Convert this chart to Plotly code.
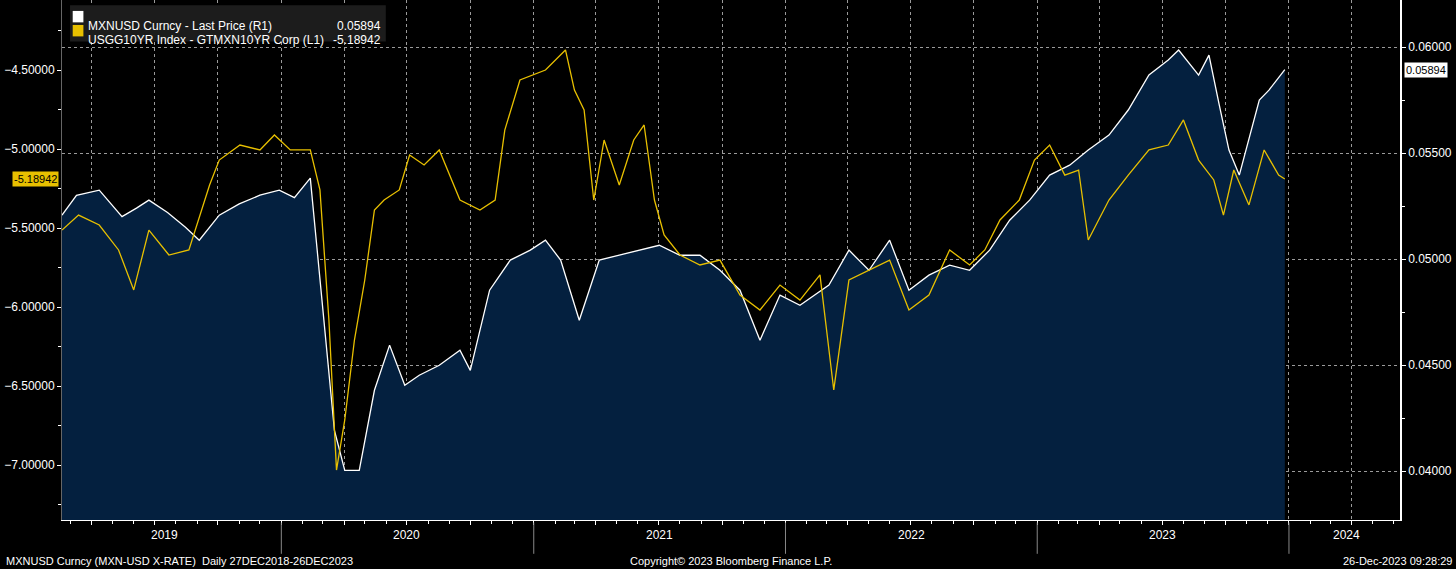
import plotly.graph_objects as go

# MXNUSD Curncy - last price (right axis)
mxn_dates = ["2019-02-17", "2019-03-10", "2019-04-12", "2019-05-15", "2019-06-05", "2019-06-23",
             "2019-07-20", "2019-08-15", "2019-09-04", "2019-10-03", "2019-11-01", "2019-12-01",
             "2019-12-29", "2020-01-20", "2020-02-12", "2020-03-04", "2020-03-18", "2020-04-02", "2020-04-23",
             "2020-05-15", "2020-06-06", "2020-06-28", "2020-07-19", "2020-08-17", "2020-09-16",
             "2020-10-01", "2020-10-29", "2020-11-28", "2020-12-27", "2021-01-18", "2021-02-09",
             "2021-03-08", "2021-04-06", "2021-05-05", "2021-06-03", "2021-07-02", "2021-08-01",
             "2021-08-30", "2021-09-28", "2021-10-27", "2021-11-25", "2021-12-24", "2022-01-22",
             "2022-03-05", "2022-04-03", "2022-05-02", "2022-06-01", "2022-06-29", "2022-07-28",
             "2022-08-27", "2022-09-25", "2022-10-24", "2022-11-22", "2022-12-21", "2023-01-19",
             "2023-02-17", "2023-03-16", "2023-04-15", "2023-05-13", "2023-06-12", "2023-07-10",
             "2023-07-25", "2023-08-23", "2023-09-07", "2023-09-22", "2023-10-06", "2023-10-21",
             "2023-11-04", "2023-11-19", "2023-12-03", "2023-12-26"]
mxn_values = [0.05207, 0.05300, 0.05325, 0.05200, 0.05240, 0.05278,
              0.05220, 0.05150, 0.05089, 0.05207, 0.05260, 0.05301,
              0.05325, 0.05290, 0.05382, 0.04664, 0.04192, 0.04003, 0.04003,
              0.04381, 0.04594, 0.04405, 0.04452, 0.04499, 0.04570,
              0.04475, 0.04853, 0.04995, 0.05042, 0.05089, 0.04995,
              0.04711, 0.04995, 0.05018, 0.05042, 0.05065, 0.05018,
              0.05018, 0.04947, 0.04853, 0.04617, 0.04830, 0.04782,
              0.04877, 0.05042, 0.04947, 0.05089, 0.04853, 0.04924,
              0.04971, 0.04947, 0.05042, 0.05183, 0.05278, 0.05396,
              0.05443, 0.05514, 0.05585, 0.05703, 0.05868, 0.05939,
              0.05986, 0.05868, 0.05962, 0.05726, 0.05514, 0.05396,
              0.05561, 0.05750, 0.05797, 0.05894]

# USGG10YR Index - GTMXN10YR Corp spread (left axis)
spr_dates = ["2019-02-17", "2019-03-13", "2019-04-12", "2019-05-10", "2019-06-01", "2019-06-23",
             "2019-07-22", "2019-08-20", "2019-09-19", "2019-10-03", "2019-11-02", "2019-12-01",
             "2019-12-22", "2020-01-14", "2020-02-12", "2020-02-26", "2020-03-10", "2020-03-21",
             "2020-04-02", "2020-04-16", "2020-05-01", "2020-05-15", "2020-05-29", "2020-06-20",
             "2020-07-05", "2020-07-26", "2020-08-17", "2020-09-16", "2020-10-15", "2020-11-06",
             "2020-11-20", "2020-12-12", "2021-01-18", "2021-02-16", "2021-03-01", "2021-03-15",
             "2021-03-29", "2021-04-13", "2021-05-05", "2021-05-26", "2021-06-10", "2021-06-25",
             "2021-07-09", "2021-08-01", "2021-08-30", "2021-09-28", "2021-10-27", "2021-11-25",
             "2021-12-24", "2022-01-22", "2022-02-20", "2022-03-12", "2022-04-03", "2022-05-02",
             "2022-06-01", "2022-06-29", "2022-07-28", "2022-08-27", "2022-09-25", "2022-10-17",
             "2022-11-08", "2022-12-06", "2022-12-28", "2023-01-19", "2023-02-10", "2023-03-02",
             "2023-03-16", "2023-04-15", "2023-05-13", "2023-06-12", "2023-07-10", "2023-08-01",
             "2023-08-23", "2023-09-14", "2023-09-28", "2023-10-13", "2023-11-04", "2023-11-26",
             "2023-12-17", "2023-12-26"]
spr_values = [-5.513, -5.418, -5.481, -5.639, -5.892, -5.513,
              -5.671, -5.639, -5.228, -5.070, -4.975, -5.006,
              -4.911, -5.006, -5.006, -5.259, -6.082, -7.032,
              -6.715, -6.209, -5.829, -5.386, -5.323, -5.259,
              -5.038, -5.101, -5.006, -5.323, -5.386, -5.323,
              -4.880, -4.563, -4.500, -4.373, -4.627, -4.753,
              -5.323, -4.943, -5.228, -4.943, -4.848, -5.323,
              -5.544, -5.671, -5.734, -5.703, -5.924, -6.019,
              -5.861, -5.956, -5.797, -6.525, -5.829, -5.766,
              -5.703, -6.019, -5.924, -5.639, -5.734, -5.639,
              -5.449, -5.323, -5.070, -4.975, -5.165, -5.133,
              -5.576, -5.323, -5.165, -5.006, -4.975, -4.816,
              -5.070, -5.196, -5.418, -5.133, -5.354, -5.006,
              -5.165, -5.18942]

years = ["2019", "2020", "2021", "2022", "2023", "2024"]
year_mid = ["2019-07-16", "2020-07-01", "2021-07-02", "2022-07-02", "2023-07-02", "2024-03-25"]
year_starts = ["2020-01-01", "2021-01-01", "2022-01-01", "2023-01-01", "2024-01-01"]

FONT = "Liberation Sans, Arial, sans-serif"
YELLOW = "#e8c000"

fig = go.Figure()
fig.add_trace(go.Scatter(x=mxn_dates, y=mxn_values, yaxis="y2", mode="lines",
                         line=dict(color="white", width=1.3), fill="tozeroy",
                         fillcolor="#04203f", name="MXNUSD"))
fig.add_trace(go.Scatter(x=spr_dates, y=spr_values, yaxis="y", mode="lines",
                         line=dict(color=YELLOW, width=1.3), name="spread"))

# year separators below axis
for d in year_starts:
    fig.add_shape(type="line", xref="x", yref="paper", x0=d, x1=d, y0=-0.005, y1=-0.065,
                  line=dict(color="#888888", width=1))
for y, m in zip(years, year_mid):
    fig.add_annotation(x=m, y=-0.046, xref="x", yref="paper", text=y, showarrow=False,
                       font=dict(color="white", size=12, family=FONT))

# legend box
fig.add_shape(type="rect", xref="paper", yref="paper", x0=0.006, x1=0.242, y0=0.92, y1=0.99,
              fillcolor="#1c1c1c", line=dict(width=0))
legend_rows = [("MXNUSD Curncy - Last Price (R1)", "0.05894", "white", 0.968),
               ("USGG10YR Index - GTMXN10YR Corp (L1)", "-5.18942", YELLOW, 0.941)]
for name, val, col, yy in legend_rows:
    fig.add_shape(type="rect", xref="paper", yref="paper", x0=0.008, x1=0.016,
                  y0=yy - 0.011, y1=yy + 0.011, fillcolor=col, line=dict(width=0))
    fig.add_annotation(x=0.018, y=yy, xref="paper", yref="paper", text=name, showarrow=False,
                       xanchor="left", font=dict(color="white", size=12, family=FONT))
    fig.add_annotation(x=0.240, y=yy, xref="paper", yref="paper", text=val, showarrow=False,
                       xanchor="right", font=dict(color="white", size=12, family=FONT))

# last value tags
fig.add_annotation(x=1.003, y=mxn_values[-1], xref="paper", yref="y2", text=mxn_values[-1],
                   showarrow=False, xanchor="left", bgcolor="white",
                   font=dict(color="black", size=11, family=FONT))
fig.add_annotation(x=-0.002, y=spr_values[-1], xref="paper", yref="y", text="%.5f" % spr_values[-1],
                   showarrow=False, xanchor="right", bgcolor=YELLOW,
                   font=dict(color="black", size=11, family=FONT))

# footer
footer = [(-0.043, "left", "MXNUSD Curncy (MXN-USD X-RATE)  Daily 27DEC2018-26DEC2023"),
          (0.5, "center", "Copyright\u00a9 2023 Bloomberg Finance L.P."),
          (1.04, "right", "26-Dec-2023 09:28:29")]
for xx, anc, txt in footer:
    fig.add_annotation(x=xx, y=-0.078, xref="paper", yref="paper", text=txt, showarrow=False,
                       xanchor=anc, yanchor="middle", font=dict(color="white", size=11, family=FONT))

fig.update_layout(
    autosize=True,
    margin=dict(l=62, r=56, t=0, b=49),
    paper_bgcolor="black", plot_bgcolor="black",
    showlegend=False,
    xaxis=dict(range=["2019-02-17", "2024-06-10"], dtick="M3", tick0="2019-01-01",
               showticklabels=False, showgrid=True, gridcolor="#9a9a9a", griddash="dot",
               gridwidth=1, ticks="outside", ticklen=4, tickcolor="white",
               showline=True, linecolor="white", linewidth=1, zeroline=False,
               minor=dict(dtick="M1", ticks="outside", ticklen=3, tickcolor="white")),
    yaxis2=dict(range=[0.03769, 0.06222], side="right",
                tickvals=[0.04, 0.045, 0.05, 0.055, 0.06], tickformat=".5f",
                showgrid=True, gridcolor="#9a9a9a", griddash="dot", zeroline=False,
                tickfont=dict(color="white", size=12, family=FONT),
                ticks="outside", ticklen=4, tickcolor="white",
                showline=True, linecolor="white", linewidth=1.5,
                minor=dict(dtick=0.0025, ticks="outside", ticklen=3, tickcolor="white")),
    yaxis=dict(range=[-7.348, -4.057], overlaying="y2", side="left",
               tickvals=[-4.5, -5.0, -5.5, -6.0, -6.5, -7.0],
               tickformat=".5f", showgrid=False, zeroline=False,
               tickfont=dict(color="white", size=12, family=FONT),
               ticks="outside", ticklen=4, tickcolor="white",
               showline=True, linecolor="#666666",
               minor=dict(dtick=0.25, tick0=-4.5, ticks="outside", ticklen=3, tickcolor="white")),
)

fig.write_html("out.html", default_width="100%", default_height="100%",
               config={"displayModeBar": False},
               post_script="document.body.style.margin='0';"
                           "Plotly.Plots.resize(document.getElementById('{plot_id}'));")
